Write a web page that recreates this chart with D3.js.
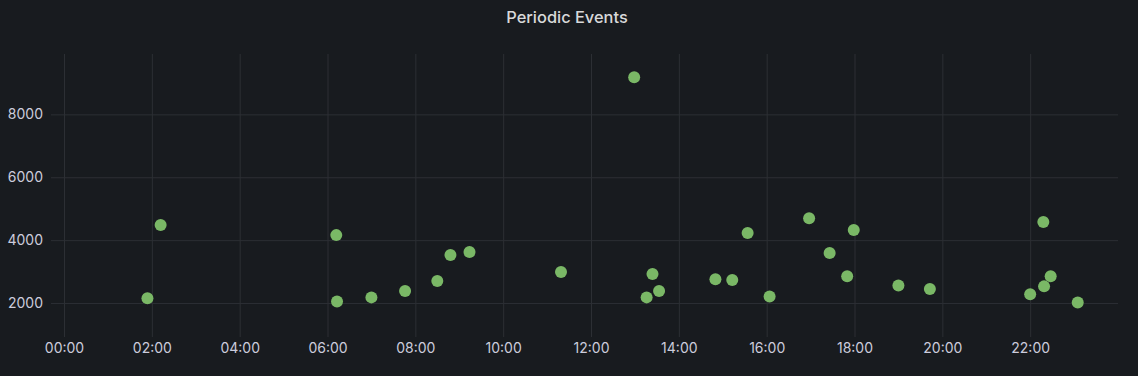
<!DOCTYPE html>
<html>
<head>
<meta charset="utf-8">
<script src="https://cdn.jsdelivr.net/npm/d3@7"></script>
<style>
    html, body { margin: 0; padding: 0; background: #181b1f; }
    #viz { width: 1138px; height: 376px; }
    text { font-family: Inter, 'Noto Sans', sans-serif; }
</style>
</head>
<body>
<div id="viz"></div>
<script>
// event times (HH:MM) and values
const times = ['01:54', '02:12', '06:12', '06:13', '07:00', '07:46', '08:30', '08:48', '09:14', '11:19',
    '12:59', '13:16', '13:24', '13:33', '14:50', '15:13', '15:34', '16:04', '16:58', '17:26',
    '17:50', '17:59', '19:00', '19:43', '22:00', '22:18', '22:19', '22:28', '23:05']
const values = [2150, 4480, 4160, 2050, 2180, 2380, 2700, 3530, 3620, 2990,
    9180, 2180, 2920, 2380, 2760, 2730, 4230, 2210, 4700, 3590,
    2850, 4320, 2560, 2450, 2280, 4580, 2530, 2850, 2020]
const xTickLabels = ['00:00', '02:00', '04:00', '06:00', '08:00', '10:00',
    '12:00', '14:00', '16:00', '18:00', '20:00', '22:00']
const yTickValues = [2000, 4000, 6000, 8000]
const yDomain = [920, 9920]
const title = 'Periodic Events'

const render = () => {
    const w = 1138, h = 376
    const textColor = '#ccccdc'
    const gridColor = '#2c2f34'

    const svg = d3.select('#viz')
        .append('svg')
        .attr('width', w)
        .attr('height', h)
        .attr('viewBox', [0, 0, w, h])

    const plot = { left: 51, x0: 64, right: 1118, top: 54, bottom: 337 }

    const parse = d3.timeParse('%H:%M')
    const day0 = parse('00:00')
    const data = times.map((t, i) => ({ t: parse(t), v: values[i] }))

    const x = d3.scaleTime()
        .domain([day0, d3.timeDay.offset(day0, 1)])
        .range([plot.x0, plot.right])

    const y = d3.scaleLinear()
        .domain(yDomain)
        .range([plot.bottom, plot.top])

    // title
    svg.append('text')
        .attr('x', 567)
        .attr('y', 23)
        .attr('text-anchor', 'middle')
        .attr('fill', '#d8d9da')
        .style('font-size', '16.4px')
        .style('font-weight', 500)
        .text(title)

    // y axis with gridlines
    const yAxisG = svg.append('g')
        .attr('transform', `translate(${plot.left}, 0)`)
        .call(d3.axisLeft(y)
            .tickValues(yTickValues)
            .tickSize(-(plot.right - plot.left))
            .tickPadding(8)
            .tickFormat(d3.format('d')))
    yAxisG.select('.domain').remove()
    yAxisG.selectAll('.tick line').attr('stroke', gridColor)
    yAxisG.selectAll('.tick text')
        .attr('fill', textColor)
        .style('font-size', '14px')

    // x axis with gridlines
    const xAxisG = svg.append('g')
        .attr('transform', `translate(0, ${plot.bottom})`)
        .call(d3.axisBottom(x)
            .tickValues(xTickLabels.map(parse))
            .tickSize(-(plot.bottom - plot.top))
            .tickPadding(6)
            .tickFormat(d3.timeFormat('%H:%M')))
    xAxisG.select('.domain').remove()
    xAxisG.selectAll('.tick line').attr('stroke', gridColor)
    xAxisG.selectAll('.tick text')
        .attr('fill', textColor)
        .style('font-size', '14px')

    // points
    svg.append('g')
        .selectAll('circle')
        .data(data)
        .join('circle')
        .attr('cx', d => x(d.t))
        .attr('cy', d => y(d.v))
        .attr('r', 6)
        .attr('fill', '#7ab866')
}

render()
</script>
</body>
</html>
